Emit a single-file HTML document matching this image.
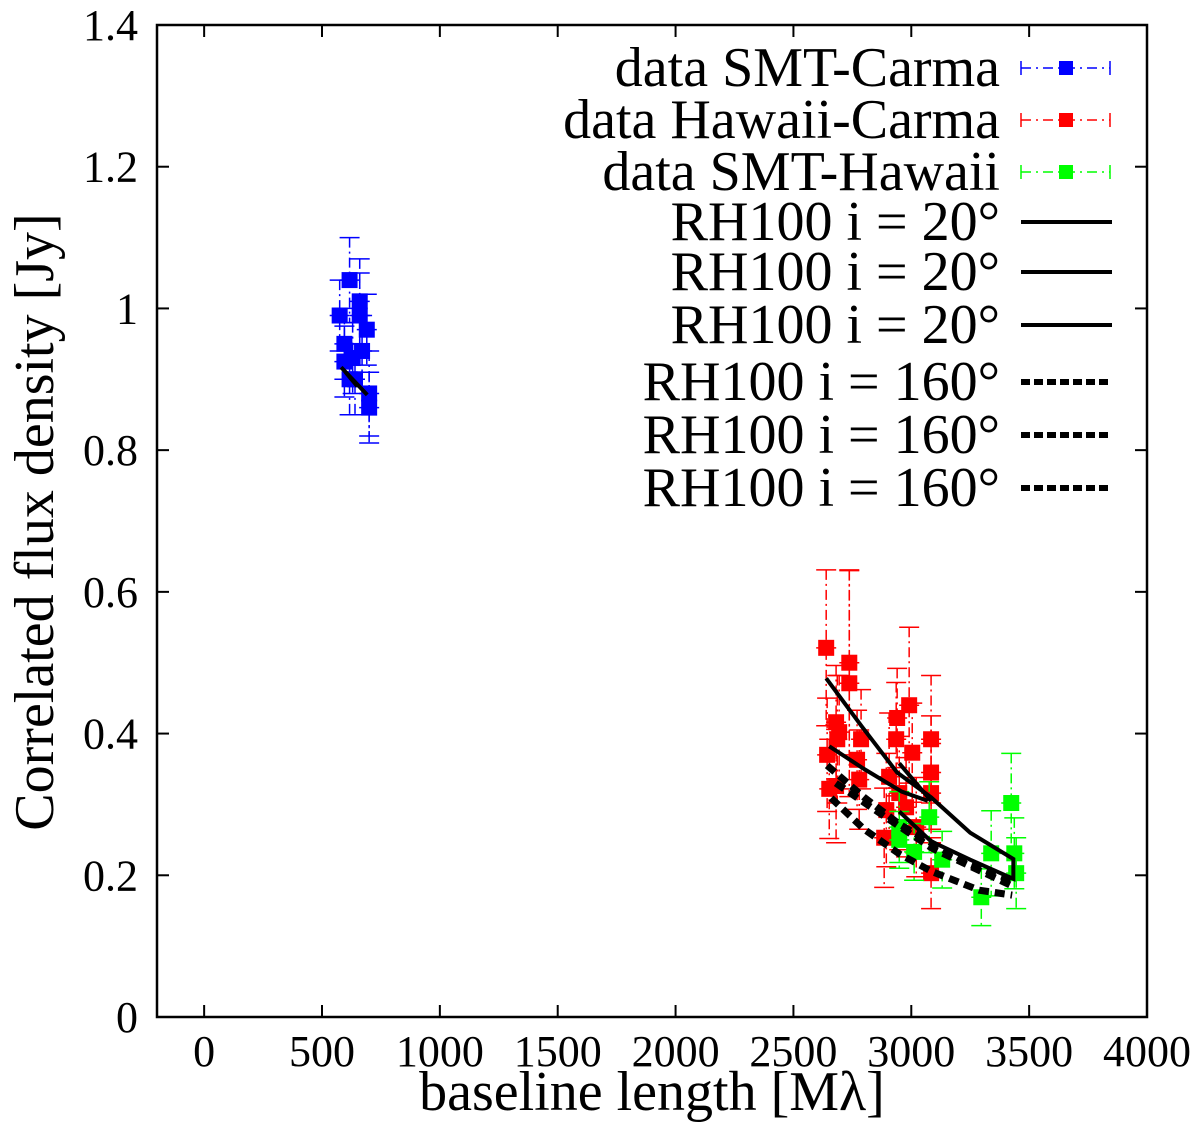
<!DOCTYPE html>
<html><head><meta charset="utf-8"><style>
body{margin:0;background:#fff}
svg text{font-family:"Liberation Serif",serif;fill:#000}
</style></head><body>
<svg id="chart" width="1200" height="1128" xmlns="http://www.w3.org/2000/svg">
<rect x="157" y="25" width="990" height="992" fill="none" stroke="#000" stroke-width="2.5"/>
<g id="ticks"></g>
<g id="marks"></g>
<g id="legend"></g>
<text x="652" y="1110" font-size="56" text-anchor="middle">baseline length [Mλ]</text>
<text transform="translate(53,522) rotate(-90)" font-size="56" text-anchor="middle">Correlated flux density [Jy]</text>
</svg>
<script>
const xTicks=[0,500,1000,1500,2000,2500,3000,3500,4000];
const yTicks=[0,0.2,0.4,0.6,0.8,1,1.2,1.4];
const yTickLabels=["0","0.2","0.4","0.6","0.8","1","1.2","1.4"];
const blueX=[575,617,595,660,690,640,670,700,700,617,595,660,630];
const blueY=[0.99,1.04,0.925,1.01,0.97,0.90,0.94,0.88,0.86,0.90,0.95,0.99,0.93];
const blueE=[0.05,0.06,0.05,0.06,0.05,0.05,0.05,0.06,0.05,0.05,0.05,0.06,0.05];
const redX=[2639,2737,2737,2681,2694,2686,2643,2787,2770,2779,2652,2681,2940,2991,2936,3004,2906,2949,2894,2885,2978,3084,3084,3084,3084,3021];
const redY=[0.521,0.50,0.471,0.416,0.402,0.392,0.37,0.392,0.363,0.335,0.322,0.326,0.422,0.44,0.392,0.373,0.339,0.316,0.292,0.253,0.296,0.392,0.345,0.316,0.203,0.268];
const redE=[0.11,0.13,0.16,0.08,0.08,0.09,0.08,0.07,0.07,0.07,0.07,0.08,0.07,0.11,0.08,0.07,0.09,0.08,0.08,0.07,0.07,0.09,0.08,0.07,0.05,0.07];
const greenX=[3076,2949,3012,3131,3339,3297,3424,3437,3445,2949];
const greenY=[0.282,0.268,0.233,0.222,0.231,0.169,0.302,0.231,0.203,0.25];
const greenE=[0.05,0.05,0.04,0.04,0.06,0.04,0.07,0.05,0.05,0.04];
const modelSolid=[
 [[2639,0.478],[2790,0.41],[2940,0.345],[3084,0.31],[3250,0.26],[3433,0.223],[3433,0.195],[3250,0.222],[3084,0.248],[2949,0.29]],
 [[2652,0.382],[2800,0.35],[2960,0.318],[3070,0.305]],
 [[2949,0.358],[3084,0.305]],
 [[581,0.917],[692,0.878]],
 [[600,0.91],[650,0.89]]
];
const modelDash=[
 [[2643,0.355],[2800,0.31],[2950,0.272],[3089,0.245],[3250,0.215],[3428,0.193]],
 [[2660,0.309],[2800,0.265],[2950,0.23],[3089,0.205],[3288,0.179],[3428,0.172]],
 [[2680,0.33],[2900,0.28],[3089,0.238],[3300,0.205],[3428,0.185]]
];
const legendLabels=["data SMT-Carma","data Hawaii-Carma","data SMT-Hawaii","RH100 i = 20°","RH100 i = 20°","RH100 i = 20°","RH100 i = 160°","RH100 i = 160°","RH100 i = 160°"];

const NS="http://www.w3.org/2000/svg";
const X0=157,X1=1147,Y0=1017,Y1=25;
const sx=v=>X0+(v+200)/4200*(X1-X0);
const sy=v=>Y0-v/1.4*(Y0-Y1);
function mk(tag,attrs,parent){const e=document.createElementNS(NS,tag);for(const k in attrs)e.setAttribute(k,attrs[k]);parent.appendChild(e);return e;}
const ticks=document.getElementById('ticks');
xTicks.forEach(t=>{
 const x=sx(t);
 const a=mk('line',{x1:x,x2:x,y1:Y0,y2:Y0-12,stroke:'#000','stroke-width':2},ticks);
 
 
 const b=mk('line',{x1:x,x2:x,y1:Y1,y2:Y1+12,stroke:'#000','stroke-width':2},ticks);
 
 
 const tx=mk('text',{x:x,y:1066,'font-size':44,'text-anchor':'middle'},ticks);tx.textContent=t;
 
 
});
yTicks.forEach((t,i)=>{
 const y=sy(t);
 const a=mk('line',{x1:X0,x2:X0+12,y1:y,y2:y,stroke:'#000','stroke-width':2},ticks);
 
 
 const b=mk('line',{x1:X1,x2:X1-12,y1:y,y2:y,stroke:'#000','stroke-width':2},ticks);
 
 
 const tx=mk('text',{x:138,y:y+15,'font-size':44,'text-anchor':'end'},ticks);tx.textContent=yTickLabels[i];
 
 
});
const marks=document.getElementById('marks');
function series(xs,ys,es,col,name){
 const g=mk('g',{},marks);
 
 
 xs.forEach((v,i)=>{
  const x=sx(v),y=sy(ys[i]),yt=sy(ys[i]+es[i]),yb=sy(ys[i]-es[i]);
  mk('line',{x1:x,x2:x,y1:yt,y2:yb,stroke:col,'stroke-width':1.5,'stroke-dasharray':'10,4,2,4'},g);
  mk('line',{x1:x-10,x2:x+10,y1:yt,y2:yt,stroke:col,'stroke-width':1.5},g);
  mk('line',{x1:x-10,x2:x+10,y1:yb,y2:yb,stroke:col,'stroke-width':1.5},g);
  mk('line',{x1:x-10,x2:x+10,y1:y,y2:y,stroke:col,'stroke-width':1.5},g);
  const r=mk('rect',{x:x-8,y:y-8,width:16,height:16,fill:col},g);
  
  
 });
}
series(redX,redY,redE,'#ff0000','hawaii-carma-series');
series(greenX,greenY,greenE,'#00ff00','smt-hawaii-series');
series(blueX,blueY,blueE,'#0000ff','smt-carma-series');
function model(pts,dash){
 const p=mk('polyline',{points:pts.map(q=>sx(q[0])+','+sy(q[1])).join(' '),fill:'none',stroke:'#000','stroke-width':dash?7:4,'stroke-dasharray':dash?'10,6':'none'},marks);
 
 
}
modelSolid.forEach(m=>model(m,false));
modelDash.forEach(m=>model(m,true));
const leg=document.getElementById('legend');
const cols=['#0000ff','#ff0000','#00ff00'];
const rowY=[68,120,172,222,272,325,382,435,488];
legendLabels.forEach((l,i)=>{
 const y=rowY[i];
 const t=mk('text',{x:1000,y:y+18,'font-size':56,'text-anchor':'end'},leg);t.textContent=l;
 
 
 if(i<3){
  const c=cols[i];
  mk('line',{x1:1021,x2:1110,y1:y,y2:y,stroke:c,'stroke-width':1.5,'stroke-dasharray':'10,5,2,5'},leg);
  mk('line',{x1:1021,x2:1021,y1:y-7,y2:y+7,stroke:c,'stroke-width':1.5},leg);
  mk('line',{x1:1110,x2:1110,y1:y-7,y2:y+7,stroke:c,'stroke-width':1.5},leg);
  const r=mk('rect',{x:1059,y:y-7,width:14,height:14,fill:c},leg);
  
  
 } else {
  const dash=i>=6;
  const s=mk('line',{x1:1021,x2:1112,y1:y,y2:y,stroke:'#000','stroke-width':dash?6:4,'stroke-dasharray':dash?'9,4':'none'},leg);
  
  
 }
});
</script>
</body></html>
